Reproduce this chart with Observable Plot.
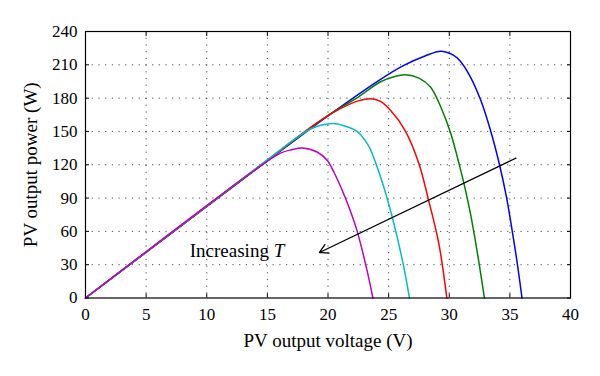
<!DOCTYPE html>
<html><head><meta charset="utf-8">
<script src="https://cdn.jsdelivr.net/npm/d3@7"></script>
<script src="https://cdn.jsdelivr.net/npm/@observablehq/plot@0.6"></script>
<style>body{margin:0;background:#fff}</style>
</head><body><div id="chart"></div>
<script>
const xTicks = [0, 5, 10, 15, 20, 25, 30, 35, 40];
const yTicks = [0, 30, 60, 90, 120, 150, 180, 210, 240];
const xTitle = "PV output voltage (V)";
const yTitle = "PV output power (W)";
const annotation = "Increasing T";
const annotationAt = [8.6, 42];
const arrowFrom = [35.5, 126];
const arrowTo = [19.3, 41];

const seriesNames = ["blue", "green", "red", "cyan", "magenta"];
const seriesColors = ["#0000ff", "#008000", "#ff0000", "#00bfbf", "#bf00bf"];

const blueV = [0, 5, 10, 15, 20, 24.3, 26.25, 28, 29.3, 30.3, 30.9, 31.75, 32.6, 33.4, 34.1, 34.7, 35.2, 35.6, 36.0];
const blueP = [0, 41.2, 82.4, 123.5, 164, 196.7, 209.5, 218, 222.3, 219, 213.5, 199, 178, 151, 122, 92, 60, 32, 0];

const greenV = [0, 5, 10, 15, 20, 22.5, 24.3, 25.5, 26.4, 27.5, 28.45, 29.3, 30.1, 30.9, 31.3, 31.75, 32.3, 32.9];
const greenP = [0, 41.3, 82.6, 123.8, 164.5, 181, 194.5, 199.5, 201, 198, 190, 172, 149, 117, 99, 76, 42, 0];

const redV = [0, 5, 10, 15, 19, 20.75, 22.5, 23.5, 24.33, 25.15, 26.35, 27.5, 28.25, 29.14, 29.8];
const redP = [0, 41.4, 82.8, 124.2, 157, 169, 177.5, 179.5, 177, 169, 151, 121, 90, 49, 0];

const cyanV = [0, 5, 10, 15, 17.7, 18.83, 19.7, 20.62, 21.5, 22.4, 23.37, 24.05, 24.6, 25.15, 25.7, 26.25, 26.72];
const cyanP = [0, 41.5, 83, 124.5, 146.5, 153.5, 156.3, 157, 154.5, 150, 136.5, 118, 100, 79, 55, 28, 0];

const magentaV = [0, 5, 10, 14, 16.08, 17.0, 17.87, 19.1, 19.93, 20.48, 21.17, 21.86, 22.41, 23.28, 23.7];
const magentaP = [0, 41.6, 83.2, 115.5, 130.5, 133.5, 135, 131.5, 124, 113.5, 97, 78, 60, 22, 0];

const seriesV = [blueV, greenV, redV, cyanV, magentaV];
const seriesP = [blueP, greenP, redP, cyanP, magentaP];

const lineMarks = seriesNames.map((name, k) =>
  Plot.line(seriesV[k].map((v, i) => ({v, p: seriesP[k][i]})), {
    x: "v", y: "p", stroke: seriesColors[k], strokeWidth: 1.5, curve: "catmull-rom"
  })
);

const gridStyle = {stroke: "#000", strokeOpacity: 0.7, strokeDasharray: "1.2,5.5", strokeWidth: 1};

const chart = Plot.plot({
  width: 600,
  height: 376,
  marginLeft: 85,
  marginRight: 30,
  marginTop: 31,
  marginBottom: 78.5,
  style: {fontFamily: "'Liberation Serif', 'DejaVu Serif', serif", fontSize: "17px", background: "#fff", color: "#000"},
  x: {domain: [0, 40]},
  y: {domain: [0, 240]},
  marks: [
    Plot.gridX(xTicks.slice(1, -1), gridStyle),
    Plot.gridY(yTicks.slice(1, -1), gridStyle),
    Plot.axisX({anchor: "bottom", ticks: xTicks, tickSize: -4, tickPadding: 14, label: null, fontSize: 17}),
    Plot.axisX({anchor: "top", ticks: xTicks, tickSize: -4, tickFormat: () => "", label: null}),
    Plot.axisY({anchor: "left", ticks: yTicks, tickSize: -4, tickPadding: 12, label: null, fontSize: 17}),
    Plot.axisY({anchor: "right", ticks: yTicks, tickSize: -4, tickFormat: () => "", label: null}),
    ...lineMarks,
    Plot.arrow([{x1: arrowFrom[0], y1: arrowFrom[1], x2: arrowTo[0], y2: arrowTo[1]}], {
      x1: "x1", y1: "y1", x2: "x2", y2: "y2", stroke: "#000", strokeWidth: 1.3, headLength: 11
    }),
    Plot.text([annotation], {x: () => annotationAt[0], y: () => annotationAt[1], text: d => d, textAnchor: "start", fontSize: 19}),
    Plot.text([xTitle], {frameAnchor: "bottom", lineAnchor: "middle", textAnchor: "middle", dy: 43, text: d => d, fontSize: 19}),
    Plot.text([yTitle], {frameAnchor: "left", lineAnchor: "middle", textAnchor: "middle", rotate: -90, dx: -55, text: d => d, fontSize: 19}),
    Plot.frame({stroke: "#000", strokeWidth: 1.2})
  ]
});

d3.select(chart).selectAll("text").filter(function() { return this.textContent === annotation; })
  .html("Increasing <tspan font-style='italic'>T</tspan>");

document.getElementById("chart").appendChild(chart);
</script>
</body></html>
